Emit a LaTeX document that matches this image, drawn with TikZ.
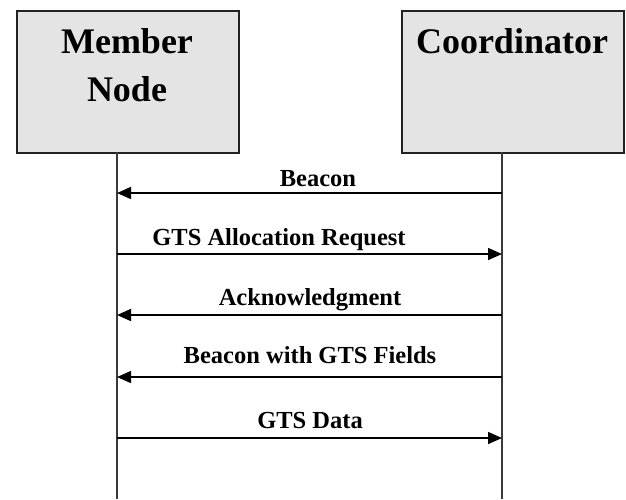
\documentclass[tikz,border=0pt]{standalone}
\usepackage{fontspec}
\setmainfont{Liberation Serif}
\usetikzlibrary{arrows.meta}
\definecolor{boxgray}{HTML}{E4E4E4}
\definecolor{edgegray}{HTML}{222222}
\definecolor{linegray}{HTML}{3A3A3A}
\begin{document}
\begin{tikzpicture}[x=1pt,y=-1pt,
  actor/.style={draw=edgegray, line width=2pt, fill=boxgray, minimum width=222pt, minimum height=142pt, inner sep=0pt, anchor=north west},
  title/.style={font=\fontsize{36}{48}\selectfont\bfseries, align=center, anchor=base, inner sep=0pt},
  lifeline/.style={draw=linegray, line width=2pt},
  msg/.style={draw=black, line width=1.5pt, -{Triangle[length=14pt,width=12pt]}},
  msglabel/.style={font=\fontsize{24.5}{28}\selectfont\bfseries, anchor=base, inner sep=0pt}]
\useasboundingbox (0,0) rectangle (626,499);
\node[actor] (member) at (16,10) {};
\node[actor] (coord) at (401,10) {};
\node[title] (membert) at (127,101) {Member\\Node};
\node[title] (coordt) at (512,53) {Coordinator};
\coordinate (mtop) at (117,152);
\coordinate (mbot) at (117,499);
\coordinate (ctop) at (502,152);
\coordinate (cbot) at (502,499);
\draw[lifeline] (mtop) -- (mbot);
\draw[lifeline] (ctop) -- (cbot);
\coordinate (m1) at (117,193); \coordinate (c1) at (502,193);
\coordinate (m2) at (117,254); \coordinate (c2) at (502,254);
\coordinate (m3) at (117,315); \coordinate (c3) at (502,315);
\coordinate (m4) at (117,377); \coordinate (c4) at (502,377);
\coordinate (m5) at (117,438); \coordinate (c5) at (502,438);
\draw[msg] (c1) -- (m1);
\draw[msg] (m2) -- (c2);
\draw[msg] (c3) -- (m3);
\draw[msg] (c4) -- (m4);
\draw[msg] (m5) -- (c5);
\node[msglabel] (l1) at (318,186) {Beacon};
\node[msglabel] (l2) at (279,245) {GTS Allocation Request};
\node[msglabel] (l3) at (310,305) {Acknowledgment};
\node[msglabel] (l4) at (310,363) {Beacon with GTS Fields};
\node[msglabel] (l5) at (310,428) {GTS Data};
\end{tikzpicture}
\end{document}
